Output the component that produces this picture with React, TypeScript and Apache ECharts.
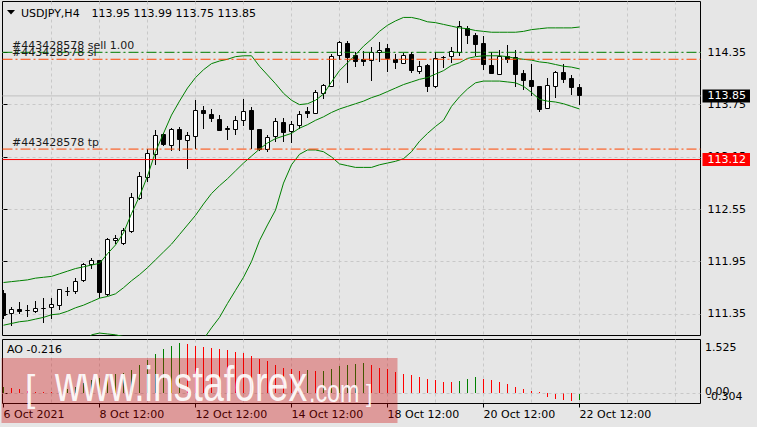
import React, { useEffect, useRef } from "react";
import * as echarts from "echarts";

// ---------- data ----------
const symbolName = "USDJPY,H4";
const orderId = "#443428578";

const opens = [
  111.586, 111.357, 111.395, 111.387, 111.375, 111.414, 111.421, 111.444, 111.605, 111.605,
  111.73, 111.919, 111.968, 111.578, 112.186, 112.16, 112.293, 112.676, 112.912, 113.18,
  113.41, 113.279, 113.459, 113.341, 113.382, 113.688, 113.642, 113.585, 113.474, 113.467,
  113.57, 113.688, 113.459, 113.238, 113.382, 113.547, 113.444, 113.508, 113.669, 113.646,
  113.88, 113.96, 114.316, 114.453, 114.308, 114.273, 114.254, 114.35, 114.388, 114.27,
  114.224, 114.32, 114.128, 114.196, 113.955, 114.29, 114.304, 114.345, 114.625, 114.537,
  114.453, 114.204, 114.098, 114.3, 114.293, 114.109, 114.024, 113.955, 113.703, 113.963,
  114.113, 114.052, 113.95,
];
const highs = [
  111.62, 111.426, 111.49, 111.452, 111.5, 111.528, 111.536, 111.635, 111.655, 111.758,
  111.93, 111.994, 111.972, 112.217, 112.251, 112.332, 112.733, 112.977, 113.238, 113.459,
  113.421, 113.485, 113.49, 113.432, 113.803, 113.734, 113.696, 113.631, 113.508, 113.62,
  113.814, 113.719, 113.46, 113.402, 113.593, 113.593, 113.566, 113.677, 113.726, 113.918,
  113.986, 114.327, 114.483, 114.48, 114.35, 114.368, 114.407, 114.465, 114.442, 114.327,
  114.345, 114.35, 114.25, 114.212, 114.35, 114.308, 114.407, 114.709, 114.655, 114.575,
  114.537, 114.35, 114.376, 114.434, 114.376, 114.147, 114.216, 113.963, 114.052, 114.139,
  114.212, 114.09, 113.99,
];
const lows = [
  111.29, 111.211, 111.35, 111.318, 111.364, 111.242, 111.288, 111.395, 111.556, 111.578,
  111.72, 111.868, 111.529, 111.555, 112.152, 112.14, 112.274, 112.656, 112.866, 113.058,
  113.275, 113.222, 113.222, 113.008, 113.241, 113.467, 113.554, 113.451, 113.344, 113.402,
  113.508, 113.241, 113.222, 113.21, 113.325, 113.318, 113.306, 113.467, 113.593, 113.642,
  113.811, 113.952, 114.262, 113.994, 114.185, 114.193, 114.024, 114.235, 114.128, 114.155,
  114.216, 114.109, 114.098, 113.891, 113.937, 114.173, 114.231, 114.308, 114.445, 114.311,
  114.147, 114.109, 114.098, 114.224, 113.955, 113.918, 113.852, 113.662, 113.696, 113.822,
  114.0, 113.86, 113.75,
];
const closes = [
  111.337, 111.398, 111.383, 111.39, 111.414, 111.41, 111.46, 111.632, 111.61, 111.72,
  111.922, 111.968, 111.593, 112.206, 112.217, 112.312, 112.687, 112.931, 113.192, 113.398,
  113.287, 113.47, 113.352, 113.398, 113.677, 113.646, 113.589, 113.451, 113.47, 113.566,
  113.673, 113.467, 113.23, 113.375, 113.562, 113.428, 113.524, 113.639, 113.646, 113.891,
  113.967, 114.3, 114.465, 114.288, 114.242, 114.25, 114.35, 114.376, 114.277, 114.231,
  114.308, 114.139, 114.185, 113.955, 114.281, 114.288, 114.361, 114.643, 114.54, 114.442,
  114.212, 114.109, 114.3, 114.273, 114.093, 114.024, 113.955, 113.696, 113.967, 114.121,
  114.04, 113.949, 113.85,
];

const bbUpper = [
  111.71, 111.72, 111.73, 111.74, 111.76, 111.77, 111.78, 111.81, 111.84, 111.87,
  111.89, 111.91, 111.93, 112.04, 112.14, 112.28, 112.5, 112.7, 112.93, 113.21,
  113.42, 113.63, 113.79, 113.94, 114.06, 114.15, 114.22, 114.25, 114.27, 114.3,
  114.31, 114.31, 114.19, 114.09, 113.99, 113.88, 113.8, 113.75, 113.76, 113.8,
  113.87, 114.01, 114.14, 114.23, 114.32, 114.42, 114.5, 114.59, 114.66, 114.71,
  114.75, 114.75, 114.73, 114.7, 114.69, 114.67, 114.65, 114.63, 114.62, 114.6,
  114.59, 114.58, 114.58, 114.58, 114.58, 114.59, 114.61, 114.62, 114.63, 114.63,
  114.63, 114.63, 114.64,
];
const bbMiddle = [
  111.22, 111.24, 111.26, 111.27, 111.29, 111.31, 111.34, 111.35, 111.38, 111.42,
  111.45, 111.49, 111.53, 111.55, 111.58, 111.65, 111.73, 111.8, 111.88, 111.97,
  112.06, 112.15, 112.26, 112.37, 112.48, 112.61, 112.73, 112.82, 112.9, 112.99,
  113.08, 113.16, 113.24, 113.31, 113.36, 113.39, 113.42, 113.48, 113.52, 113.57,
  113.61, 113.66, 113.7, 113.73, 113.76, 113.79, 113.83, 113.86, 113.9, 113.94,
  113.98, 114.01, 114.04, 114.06, 114.1, 114.14, 114.2, 114.23, 114.28, 114.3,
  114.31, 114.31, 114.31, 114.3, 114.28, 114.27, 114.26, 114.24, 114.23, 114.21,
  114.19, 114.18, 114.16,
];
const bbLower = [
  110.73, 110.76, 110.79, 110.8, 110.82, 110.85, 110.9, 110.89, 110.92, 110.97,
  111.01, 111.11, 111.13, 111.12, 111.11, 111.09, 110.96, 110.9, 110.83, 110.73,
  110.7, 110.67, 110.73, 110.8, 110.9, 111.06, 111.19, 111.31, 111.47, 111.62,
  111.77, 111.95, 112.19, 112.37, 112.54, 112.85, 113.06, 113.18, 113.23, 113.23,
  113.21, 113.15, 113.07, 113.05, 113.03, 113.03, 113.03, 113.06, 113.08, 113.1,
  113.13, 113.21, 113.33, 113.42, 113.5, 113.57, 113.73, 113.84, 113.93, 114.0,
  114.02, 114.02, 114.02, 114.01, 114.0, 113.96, 113.89, 113.81, 113.79, 113.78,
  113.76, 113.73, 113.7,
];

const aoValues = [
  0.17, 0.142, 0.114, 0.048, 0.025, 0.018, 0.012, 0.05, 0.11, 0.18,
  0.27, 0.359, 0.425, 0.472, 0.538, 0.566, 0.66, 0.782, 0.943, 1.112,
  1.253, 1.347, 1.413, 1.385, 1.338, 1.319, 1.291, 1.253, 1.225, 1.178,
  1.131, 1.065, 0.961, 0.914, 0.801, 0.72, 0.67, 0.627, 0.645, 0.627,
  0.635, 0.69, 0.77, 0.805, 0.833, 0.84, 0.79, 0.72, 0.67, 0.61,
  0.55, 0.52, 0.45, 0.39, 0.37, 0.31, 0.3, 0.33, 0.4, 0.45,
  0.4, 0.37, 0.31, 0.25, 0.18, 0.11, 0.045, 0.015, -0.115, -0.165,
  -0.19, -0.24, -0.216,
];

const timeLabels = ["6 Oct 2021", "8 Oct 12:00", "12 Oct 12:00", "14 Oct 12:00", "18 Oct 12:00", "20 Oct 12:00", "22 Oct 12:00"];
const timeLabelBars = [0, 12, 24, 36, 48, 60, 72];
const gridBars = [6, 12, 18, 24, 30, 36, 42, 48, 54, 60, 66, 72, 78, 84];
const priceTicks = [111.35, 111.95, 112.55, 113.15, 113.75, 114.35];
const aoTicks = [1.525, 0, -0.304];

const sellPrice = 114.35;
const slPrice = 114.27;
const tpPrice = 113.24;
const levelPrice = 113.12;
const bidPrice = 113.85;

// ---------- axis ranges / styles ----------
const X_MIN = -0.125;
const X_MAX = 87.125;
const P_MIN = 111.1022;
const P_MAX = 114.9326;
const AO_MIN = -0.304;
const AO_MAX = 1.525;
const FONT = "DejaVu Sans";
const GRID_COLOR = "#C8C8C8";
const BB_COLOR = "#008000";
const ORDER_RED = "#FF4500";
const DASH_DOT = [10, 3, 2, 3];

const txt = (extra: any = {}) => ({ fontFamily: FONT, fontSize: 11, color: "#000", ...extra });

// one horizontal level = its own line series (drawn across the grid) + a label from markLine
function levelSeries(price: number, color: string, dash: any, label: any, z = 4) {
  return {
    type: "line",
    xAxisIndex: 0,
    yAxisIndex: 0,
    z,
    silent: true,
    symbol: "none",
    showSymbol: false,
    clip: true,
    color,
    data: [
      [X_MIN, price],
      [X_MAX, price],
    ],
    lineStyle: { color, width: 1, type: dash },
    markLine: {
      silent: true,
      symbol: ["none", "none"],
      animation: false,
      lineStyle: { color: "rgba(0,0,0,0)", width: 1, type: "solid" },
      label,
      data: [{ yAxis: price }],
    },
  };
}

export default function App() {
  const ref = useRef<HTMLDivElement>(null);

  useEffect(() => {
    if (!ref.current) return;
    const chart = echarts.init(ref.current, null, { renderer: "svg" });

    const candleData = opens.map((o, i) => [i, o, closes[i], lows[i], highs[i]]);
    const aoData = aoValues.map((v, i) => [i, v, i === 0 || v > aoValues[i - 1] ? 1 : 0]);
    const last = opens.length - 1;

    const splitX = { show: true, lineStyle: { color: GRID_COLOR, type: [3, 3], width: 1 } };
    const boxLabel = (price: number, bg: string) => ({
      show: true,
      position: "end",
      distance: 2,
      formatter: price.toFixed(2),
      backgroundColor: bg,
      padding: [1, 4, 1, 5],
      ...txt({ color: "#fff" }),
    });
    const orderLabel = (text: string, dy: number) => ({
      show: true,
      position: "insideStartTop",
      distance: [9.5, dy],
      formatter: text,
      ...txt({ color: "#1a1a1a" }),
    });

    const option: any = {
      animation: false,
      backgroundColor: "#E6E6E6",
      textStyle: { fontFamily: FONT, fontSize: 11 },
      grid: [
        { left: 2.5, top: 1.5, width: 698, height: 334, show: true, borderColor: "#000", borderWidth: 1, backgroundColor: "transparent", containLabel: false, outerBoundsMode: "none" },
        { left: 2.5, top: 339.5, width: 698, height: 64, show: true, borderColor: "#000", borderWidth: 1, backgroundColor: "transparent", containLabel: false, outerBoundsMode: "none" },
      ],
      xAxis: [
        {
          gridIndex: 0, type: "value", min: X_MIN, max: X_MAX,
          axisLine: { show: false }, axisTick: { show: false, customValues: gridBars },
          axisLabel: { show: false, customValues: gridBars }, splitLine: splitX,
        },
        {
          gridIndex: 1, type: "value", min: X_MIN, max: X_MAX,
          axisLine: { show: false }, axisTick: { show: false, customValues: gridBars },
          axisLabel: { show: false, customValues: gridBars }, splitLine: splitX,
        },
        {
          gridIndex: 1, type: "value", min: X_MIN, max: X_MAX, position: "bottom",
          axisLine: { show: false },
          axisTick: { show: true, customValues: timeLabelBars, length: 4, lineStyle: { color: "#000", width: 1 } },
          axisLabel: {
            show: true, customValues: timeLabelBars, align: "left", margin: 5,
            formatter: (v: number) => timeLabels[timeLabelBars.indexOf(Math.round(v))] ?? "",
            ...txt(),
          },
          splitLine: { show: false },
        },
      ],
      yAxis: [
        {
          gridIndex: 0, type: "value", position: "right", min: P_MIN, max: P_MAX,
          axisLine: { show: false },
          axisTick: { show: true, customValues: priceTicks, length: 4, lineStyle: { color: "#000", width: 1 } },
          axisLabel: { show: true, customValues: priceTicks, margin: 7, formatter: (v: number) => v.toFixed(2), ...txt() },
          splitLine: { show: true, lineStyle: { color: GRID_COLOR, type: [3, 3], width: 1 } },
        },
        {
          gridIndex: 1, type: "value", position: "right", min: AO_MIN, max: AO_MAX,
          axisLine: { show: false },
          axisTick: { show: true, customValues: aoTicks, length: 4, lineStyle: { color: "#000", width: 1 } },
          axisLabel: { show: false, customValues: aoTicks },
          splitLine: { show: false },
        },
      ],
      series: [
        levelSeries(bidPrice, "#C0C0C0", "solid", boxLabel(bidPrice, "#000"), 1),
        {
          type: "custom",
          name: "candles",
          xAxisIndex: 0,
          yAxisIndex: 0,
          clip: true,
          silent: true,
          z: 2,
          data: candleData,
          encode: { x: 0, y: [1, 2, 3, 4] },
          renderItem: (params: any, api: any) => {
            const i = api.value(0);
            const o = api.value(1);
            const c = api.value(2);
            const l = api.value(3);
            const h = api.value(4);
            const po = api.coord([i, o]);
            const pc = api.coord([i, c]);
            const pl = api.coord([i, l]);
            const ph = api.coord([i, h]);
            const cx = Math.round(po[0] - 0.5) + 0.5;
            const t = Math.round(Math.min(po[1], pc[1]) - 0.5) + 0.5;
            const b = Math.round(Math.max(po[1], pc[1]) - 0.5) + 0.5;
            const bull = c >= o;
            return {
              type: "group",
              children: [
                { type: "line", shape: { x1: cx, y1: Math.round(ph[1]), x2: cx, y2: Math.round(pl[1]) }, style: { stroke: "#000", lineWidth: 1 } },
                { type: "rect", shape: { x: cx - 2, y: t, width: 4, height: Math.max(b - t, 0) }, style: { fill: bull ? "#fff" : "#000", stroke: "#000", lineWidth: 1 } },
              ],
            };
          },
        },
        {
          type: "line", name: "bbUpper", xAxisIndex: 0, yAxisIndex: 0, z: 3, silent: true,
          symbol: "none", showSymbol: false, clip: true, color: BB_COLOR,
          data: bbUpper.map((v, i) => [i, v]),
          lineStyle: { color: BB_COLOR, width: 1 },
        },
        {
          type: "line", name: "bbMiddle", xAxisIndex: 0, yAxisIndex: 0, z: 3, silent: true,
          symbol: "none", showSymbol: false, clip: true, color: BB_COLOR,
          data: bbMiddle.map((v, i) => [i, v]),
          lineStyle: { color: BB_COLOR, width: 1 },
        },
        {
          type: "line", name: "bbLower", xAxisIndex: 0, yAxisIndex: 0, z: 3, silent: true,
          symbol: "none", showSymbol: false, clip: true, color: BB_COLOR,
          data: bbLower.map((v, i) => [i, v]),
          lineStyle: { color: BB_COLOR, width: 1 },
        },
        levelSeries(levelPrice, "#FF0000", "solid", boxLabel(levelPrice, "#FF0000")),
        levelSeries(tpPrice, ORDER_RED, DASH_DOT, orderLabel(`${orderId} tp`, 1.5)),
        levelSeries(slPrice, ORDER_RED, DASH_DOT, orderLabel(`${orderId} sl`, 1)),
        levelSeries(sellPrice, "#008000", DASH_DOT, orderLabel(`${orderId} sell 1.00`, 1.5)),
        {
          type: "custom",
          name: "AO",
          xAxisIndex: 1,
          yAxisIndex: 1,
          silent: true,
          z: 2,
          data: aoData,
          encode: { x: 0, y: 1 },
          renderItem: (params: any, api: any) => {
            const i = api.value(0);
            const v = api.value(1);
            const up = api.value(2);
            const p0 = api.coord([i, 0]);
            const p1 = api.coord([i, v]);
            const x = Math.round(p0[0] - 0.5) + 0.5;
            return {
              type: "line",
              shape: { x1: x, y1: Math.round(p0[1]), x2: x, y2: Math.round(p1[1]) },
              style: { stroke: up ? "#008000" : "#FF0000", lineWidth: 1 },
            };
          },
          markLine: {
            silent: true,
            symbol: ["none", "none"],
            animation: false,
            label: { show: false },
            lineStyle: { color: GRID_COLOR, type: [3, 3], width: 1 },
            data: [{ yAxis: 0 }],
          },
        },
      ],
    };

    chart.setOption(option);

    // AO scale labels placed through the library's own scale
    const yTop = chart.convertToPixel({ yAxisIndex: 1 } as any, aoTicks[0]) as number;
    const yZero = chart.convertToPixel({ yAxisIndex: 1 } as any, aoTicks[1]) as number;
    const yBot = chart.convertToPixel({ yAxisIndex: 1 } as any, aoTicks[2]) as number;
    const fmtAo = (v: number) => (v === 0 ? "0.00" : v.toFixed(3));

    const textEl = (text: string, x: number, y: number, extra: any = {}, va = "middle") => ({
      type: "text",
      x,
      y,
      z: 50,
      silent: true,
      style: {
        text,
        fill: "#000",
        fontFamily: FONT,
        fontSize: 11,
        textAlign: "left",
        textVerticalAlign: va,
        ...extra,
      },
    });

    const wm = (text: string, x: number, y: number, size: number, sx: number) => ({
      type: "text",
      x,
      y,
      scaleX: sx,
      z: 101,
      silent: true,
      style: {
        text,
        fill: "rgba(255,255,255,0.93)",
        fontFamily: "Liberation Sans",
        fontSize: size,
        textAlign: "left",
        textVerticalAlign: "middle",
      },
    });

    chart.setOption({
      graphic: [
        { type: "polygon", z: 50, silent: true, shape: { points: [[7, 10], [15, 10], [11, 14.5]] }, style: { fill: "#000" } },
        textEl(symbolName, 21, 13),
        textEl(`${opens[last].toFixed(2)} ${highs[last].toFixed(2)} ${lows[last].toFixed(2)} ${closes[last].toFixed(2)}`, 91.5, 13),
        textEl(`AO ${aoValues[last].toFixed(3)}`, 7, 349.5),
        textEl(fmtAo(aoTicks[0]), 705, yTop + 2, {}, "top"),
        textEl(fmtAo(aoTicks[1]), 705, yZero - 1.5),
        textEl(fmtAo(aoTicks[2]), 707, yBot - 2, {}, "bottom"),
        { type: "rect", z: 100, silent: true, shape: { x: 1.5, y: 358, width: 396, height: 65 }, style: { fill: "rgba(205,0,0,0.33)" } },
        wm("[", 25, 388, 37, 1),
        wm("www.instaforex", 55, 383.5, 50, 0.75),
        wm(".com", 309, 391, 31, 0.75),
        wm("]", 366, 394, 23, 1),
      ],
    });

    return () => chart.dispose();
  }, []);

  return <div ref={ref} style={{ position: "fixed", left: 0, top: 0, width: 757, height: 427 }} />;
}
